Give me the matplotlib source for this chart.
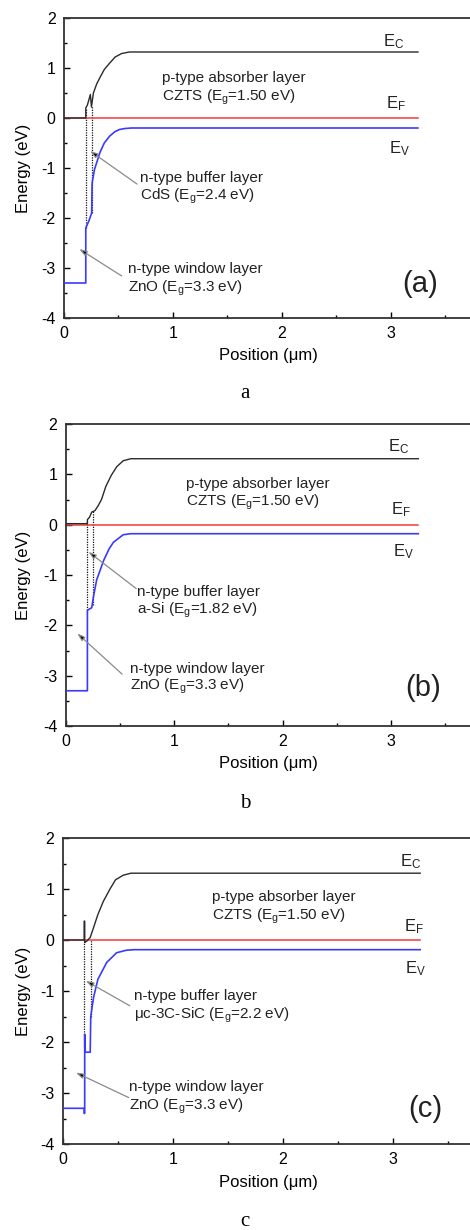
import matplotlib
matplotlib.use("Agg")
import matplotlib.pyplot as plt
from matplotlib.ticker import MultipleLocator, FixedLocator

plt.rcParams['font.family'] = ['Liberation Sans', 'DejaVu Sans']
plt.rcParams['mathtext.fontset'] = 'custom'
plt.rcParams['mathtext.rm'] = 'Liberation Sans'
plt.rcParams['mathtext.it'] = 'Liberation Sans:italic'
plt.rcParams['mathtext.default'] = 'regular'
plt.rcParams['axes.unicode_minus'] = False

# Fermi level (same in all panels)
ef_x = [0, 3.25]
ef_y = [0, 0]

# (a) CdS buffer
ec_x_a = [0, 0.2, 0.2, 0.215, 0.242, 0.252, 0.27, 0.3, 0.33, 0.37, 0.42, 0.47, 0.53, 0.6, 3.25]
ec_y_a = [0, 0, 0.2, 0.26, 0.47, 0.22, 0.5, 0.68, 0.81, 0.97, 1.1, 1.22, 1.29, 1.32, 1.32]
ev_x_a = [0, 0.2, 0.2, 0.23, 0.254, 0.258, 0.28, 0.33, 0.37, 0.42, 0.47, 0.51, 0.56, 0.62, 3.25]
ev_y_a = [-3.3, -3.3, -2.2, -2.05, -1.9, -1.3, -1.03, -0.69, -0.5, -0.36, -0.27, -0.23, -0.21, -0.2, -0.2]
drop_x_a = [0.2, 0.255]
drop_top_a = [0.2, 0.25]
drop_bot_a = [-2.2, -1.9]

# (b) a-Si buffer
ec_x_b = [0, 0.2, 0.2, 0.22, 0.24, 0.27, 0.3, 0.33, 0.37, 0.42, 0.47, 0.53, 0.6, 3.25]
ec_y_b = [0.02, 0.02, 0.1, 0.15, 0.25, 0.28, 0.38, 0.5, 0.76, 0.98, 1.15, 1.27, 1.31, 1.31]
ev_x_b = [0, 0.2, 0.2, 0.24, 0.255, 0.285, 0.35, 0.4, 0.44, 0.53, 0.6, 3.25]
ev_y_b = [-3.3, -3.3, -1.7, -1.65, -1.44, -1.1, -0.71, -0.48, -0.35, -0.2, -0.18, -0.18]
drop_x_b = [0.2, 0.25]
drop_top_b = [0.1, 0.28]
drop_bot_b = [-1.7, -1.6]

# (c) uc-3C-SiC buffer
ec_x_c = [0, 0.195, 0.195, 0.2, 0.2, 0.22, 0.25, 0.28, 0.32, 0.37, 0.43, 0.48, 0.55, 0.62, 3.25]
ec_y_c = [0, 0, 0.37, 0.37, -0.05, -0.02, 0.05, 0.24, 0.5, 0.76, 1.0, 1.18, 1.27, 1.31, 1.31]
ev_x_c = [0, 0.195, 0.195, 0.2, 0.2, 0.205, 0.25, 0.255, 0.28, 0.32, 0.4, 0.49, 0.58, 0.65, 3.25]
ev_y_c = [-3.3, -3.3, -3.4, -3.4, -1.85, -2.2, -2.2, -1.5, -1.13, -0.77, -0.44, -0.25, -0.2, -0.19, -0.19]
drop_x_c = [0.19, 0.255]
drop_top_c = [0.37, 0.0]
drop_bot_c = [-2.1, -1.5]

tags = ['(a)', '(b)', '(c)']
captions = ['a', 'b', 'c']
buffer_names = ['CdS (E$_g$=2.4 eV)', 'a-Si (E$_g$=1.82 eV)', 'μc-3C-SiC (E$_g$=2.2 eV)']
x_major = [0, 1, 2, 3]
x_minor = [0.5, 1.5, 2.5, 3.5]

fig = plt.figure(figsize=(4.7, 12.3), dpi=100)

# axes rectangles in pixels: left, top, bottom, px per um
rects = [(64, 18, 318, 108.9), (65.7, 424, 726, 108.5), (62.7, 838, 1144, 110)]
caption_y = [393, 803, 1222]

panels = [
    (ec_x_a, ec_y_a, ev_x_a, ev_y_a, drop_x_a, drop_top_a, drop_bot_a),
    (ec_x_b, ec_y_b, ev_x_b, ev_y_b, drop_x_b, drop_top_b, drop_bot_b),
    (ec_x_c, ec_y_c, ev_x_c, ev_y_c, drop_x_c, drop_top_c, drop_bot_c),
]

# text layout per panel (data coords)
layout = [
    dict(absorber=(0.9, 0.8, 0.42), buffer=(0.7, -1.2, -1.56), window=(0.59, -3.02, -3.4),
         tag=(3.11, -3.33), ec=(2.93, 1.52), ef=(2.96, 0.28), ev=(2.98, -0.62),
         arr_buf=((0.24, -0.66), (0.67, -1.32)), arr_win=((0.14, -2.62), (0.53, -3.16))),
    dict(absorber=(1.11, 0.81, 0.45), buffer=(0.66, -1.34, -1.71), window=(0.59, -2.86, -3.22),
         tag=(3.13, -3.25), ec=(2.97, 1.55), ef=(3.0, 0.3), ev=(3.02, -0.53),
         arr_buf=((0.21, -0.54), (0.65, -1.27)), arr_win=((0.107, -2.16), (0.52, -2.97))),
    dict(absorber=(1.36, 0.84, 0.46), buffer=(0.65, -1.1, -1.47), window=(0.6, -2.89, -3.27),
         tag=(3.14, -3.31), ec=(3.07, 1.53), ef=(3.1, 0.27), ev=(3.11, -0.56),
         arr_buf=((0.21, -0.8), (0.61, -1.29)), arr_win=((0.12, -2.6), (0.6, -3.09))),
]

W, H = 470, 1230
for i, (ecx, ecy, evx, evy, dx, dtop, dbot) in enumerate(panels):
    left, top, bot, ppu = rects[i]
    ax = fig.add_axes([left / W, (H - bot) / H, 4 * ppu / W, (bot - top) / H])
    ax.set_xlim(0, 4)
    ax.set_ylim(-4, 2)

    ax.plot(ef_x, ef_y, color='#f03c3c', lw=1.1, zorder=2)
    ax.plot(ecx, ecy, color='#2a2a2a', lw=1.0, zorder=3)
    ax.plot(evx, evy, color='#3a3aff', lw=1.2, zorder=3)
    ax.vlines(dx, dbot, dtop, colors='#111111', linestyles=(0, (1.0, 1.0)), lw=0.9, zorder=1)

    L = layout[i]
    fs = 11
    x0, y1, y2 = L['absorber']
    ax.text(x0, y1, 'p-type absorber layer', fontsize=fs, va='center', color='#222222')
    ax.text(x0, y2, 'CZTS (E$_g$=1.50 eV)', fontsize=fs, va='center', color='#222222')
    x0, y1, y2 = L['buffer']
    ax.text(x0, y1, 'n-type buffer layer', fontsize=fs, va='center', color='#222222')
    ax.text(x0, y2, buffer_names[i], fontsize=fs, va='center', color='#222222')
    x0, y1, y2 = L['window']
    ax.text(x0, y1, 'n-type window layer', fontsize=fs, va='center', color='#222222')
    ax.text(x0, y2, 'ZnO (E$_g$=3.3 eV)', fontsize=fs, va='center', color='#222222')
    ax.text(*L['tag'], tags[i], fontsize=21, va='center', color='#222222')
    ax.text(*L['ec'], 'E$_C$', fontsize=12, va='center', color='#222222')
    ax.text(*L['ef'], 'E$_F$', fontsize=12, va='center', color='#222222')
    ax.text(*L['ev'], 'E$_V$', fontsize=12, va='center', color='#222222')

    for tip, tail in (L['arr_buf'], L['arr_win']):
        ax.annotate('', xy=tip, xytext=tail,
                    arrowprops=dict(arrowstyle='-|>,head_length=0.45,head_width=0.15',
                                    ec='#8a8a8a', fc='black', lw=0.9, shrinkA=0, shrinkB=0))

    ax.xaxis.set_major_locator(FixedLocator(x_major))
    ax.xaxis.set_minor_locator(FixedLocator(x_minor))
    ax.yaxis.set_major_locator(MultipleLocator(1))
    ax.yaxis.set_minor_locator(MultipleLocator(0.5))
    ax.tick_params(which='both', direction='in', top=False, right=False,
                   labelsize=11.5, pad=6, width=1.0)
    ax.tick_params(which='major', length=4)
    ax.tick_params(which='minor', length=2.5)
    for s in ax.spines.values():
        s.set_linewidth(1.3)
        s.set_color('#333333')

    ax.set_xlabel('Position (μm)', fontsize=12)
    ax.set_ylabel('Energy (eV)', fontsize=12)
    ax.xaxis.set_label_coords((268 - left) / (4 * ppu), -0.1)
    ax.yaxis.set_label_coords((31 - left) / (4 * ppu), 0.5)

    fig.text(245 / W, 1 - caption_y[i] / H, captions[i], fontsize=15,
             family='Liberation Serif', ha='center', va='center')

fig.savefig('out.png', dpi=100)
